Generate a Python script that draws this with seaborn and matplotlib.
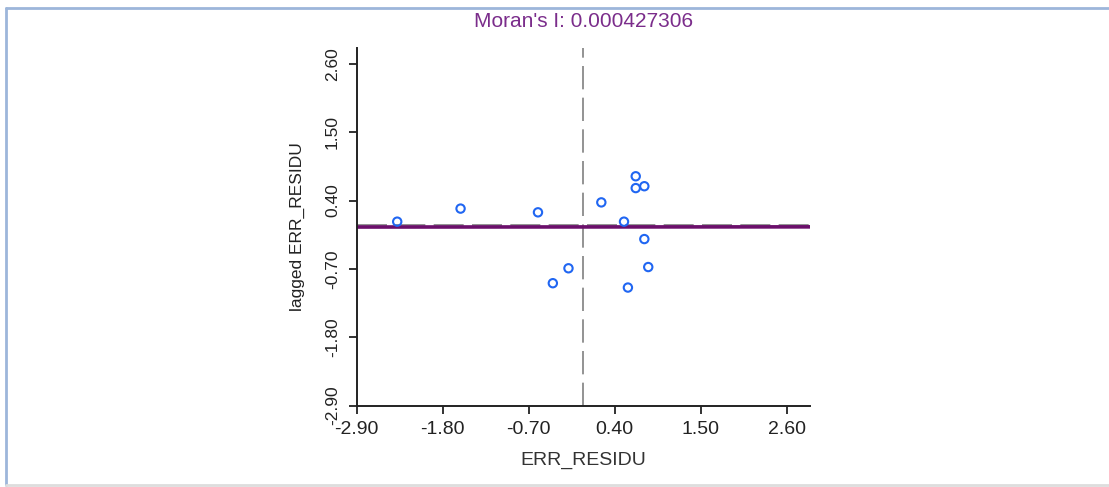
import numpy as np
import pandas as pd
import matplotlib
matplotlib.use("Agg")
import matplotlib.pyplot as plt
import seaborn as sns
from matplotlib.lines import Line2D

# valeurs
err_residu = [-2.38, -1.57, -0.58, 0.23, 0.67, 0.67, 0.78, 0.52, 0.78, 0.83, -0.19, -0.39, 0.57]
lagged_err = [0.06, 0.27, 0.21, 0.37, 0.79, 0.60, 0.63, 0.06, -0.22, -0.67, -0.69, -0.93, -1.00]
ticks = [-2.90, -1.80, -0.70, 0.40, 1.50, 2.60]
moran_i = 0.000427306
intercept = -0.025

df = pd.DataFrame({"ERR_RESIDU": err_residu, "lagged ERR_RESIDU": lagged_err})

sns.set_style("ticks")
plt.rcParams["font.family"] = ["Liberation Sans", "DejaVu Sans"]

fig = plt.figure(figsize=(11.09, 4.87), dpi=100)
ax = fig.add_axes([0.3215, 0.167, 0.409, 0.734])

# cadre autour de la figure
fig.add_artist(Line2D([0.0054, 1.0], [0.984, 0.984], color="#9db6da", lw=2, transform=fig.transFigure))
fig.add_artist(Line2D([0.0054, 0.0054], [0.004, 0.984], color="#9db6da", lw=2, transform=fig.transFigure))
fig.add_artist(Line2D([0.0054, 1.0], [0.004, 0.004], color="#dddddd", lw=2, transform=fig.transFigure))

ax.axvline(0, color="#808080", lw=1.2, linestyle=(0, (14, 5)), zorder=1)
ax.axhline(0, color="#808080", lw=1.2, linestyle=(0, (18, 5)), zorder=1)

xs = np.array([-2.9, 2.9])
ax.plot(xs, moran_i * xs + intercept, color="#6b0f6b", lw=2.6, zorder=2)

sns.scatterplot(data=df, x="ERR_RESIDU", y="lagged ERR_RESIDU", ax=ax,
                marker="o", s=36, facecolor="none", edgecolor="#2066f2",
                linewidth=1.5, zorder=3)

ax.set_xlim(-2.9, 2.9)
ax.set_ylim(-2.9, 2.85)
ax.set_xticks(ticks)
ax.set_yticks(ticks)
ax.set_xticklabels([f"{t:.2f}" for t in ticks], fontsize=14)
ax.set_yticklabels([f"{t:.2f}" for t in ticks], rotation=90, va="center", fontsize=12.5)
ax.tick_params(axis="both", length=6, width=1.3, colors="#222222", direction="out")
ax.tick_params(axis="y", pad=6)
ax.tick_params(axis="x", pad=5)

sns.despine(ax=ax)
for s in ["left", "bottom"]:
    ax.spines[s].set_linewidth(1.4)
    ax.spines[s].set_color("#222222")

ax.set_xlabel("ERR_RESIDU", fontsize=14, color="#333333", labelpad=10)
ax.set_ylabel("lagged ERR_RESIDU", fontsize=12.5, color="#222222", labelpad=14)
fig.text(0.526, 0.955, "Moran's I: 0.000427306", ha="center", va="center",
         fontsize=15, color="#7b2d8b")

fig.savefig("out.png", dpi=100, facecolor="white")
